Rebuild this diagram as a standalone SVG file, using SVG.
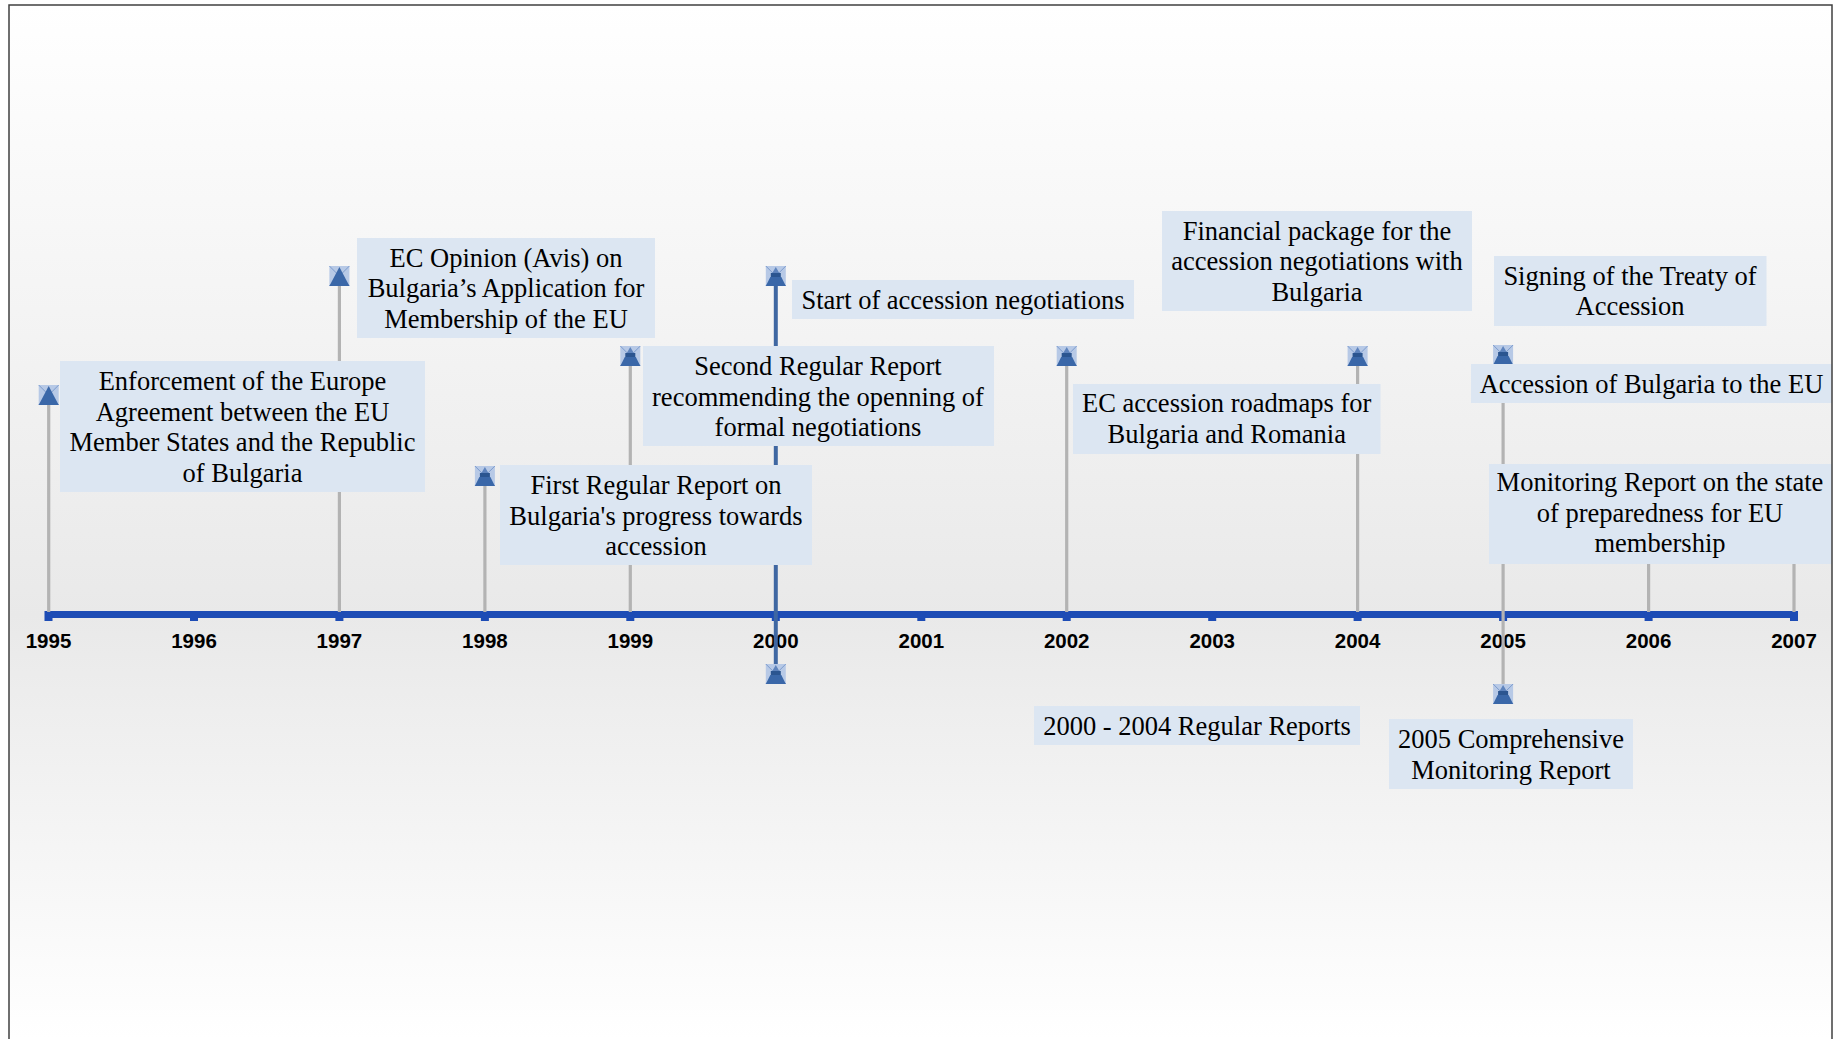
<svg xmlns="http://www.w3.org/2000/svg" xmlns:xlink="http://www.w3.org/1999/xlink" width="1841" height="1039" viewBox="0 0 1841 1039">
<style>
.box{fill:#dce6f2}
.t{font-family:"Liberation Serif","Times New Roman",serif;font-size:26.5px;fill:#000;text-anchor:middle}
.yr{font-family:"Liberation Sans",Arial,sans-serif;font-size:20.5px;font-weight:bold;fill:#000;text-anchor:middle}
.stem{stroke:#b3b3b3;stroke-width:3.2;fill:none}
.stemb{stroke:#3f67a2;stroke-width:4;fill:none}
.ax{fill:#1d4cb5}
</style>
<defs>
<linearGradient id="bg" gradientUnits="userSpaceOnUse" x1="0" y1="5" x2="0" y2="1039">
<stop offset="0" stop-color="#ffffff"/>
<stop offset="0.59" stop-color="#e9e9e9"/>
<stop offset="1" stop-color="#ffffff"/>
</linearGradient>
<g id="mA">
<rect x="0" y="0" width="20" height="20" fill="#b7c9e6"/>
<path d="M0,0 L20,20 M20,0 L0,20" stroke="#7d9cce" stroke-width="1"/>
<polygon points="0,20 10,1 20,20" fill="#3a67a8"/>
</g>
<g id="mB">
<rect x="0" y="0" width="20" height="20" fill="#b7c9e6"/>
<path d="M0,0 L20,20 M20,0 L0,20" stroke="#7d9cce" stroke-width="1"/>
<polygon points="6.5,7 10,1 13.5,7" fill="#5f84bd"/>
<rect x="5" y="7" width="10" height="4" fill="#2b5590"/>
<polygon points="4.5,11 15.5,11 20,20 0,20" fill="#3a67a8"/>
</g>
</defs>
<rect x="9" y="5" width="1823" height="1040" fill="url(#bg)"/>

<g id="axis">
<rect class="ax" x="45" y="611" width="1753" height="7"/>
<rect class="ax" x="44.5" y="611" width="8" height="10"/>
<rect class="ax" x="190" y="611" width="8" height="10"/>
<rect class="ax" x="335.4" y="611" width="8" height="10"/>
<rect class="ax" x="480.9" y="611" width="8" height="10"/>
<rect class="ax" x="626.3" y="611" width="8" height="10"/>
<rect class="ax" x="771.8" y="611" width="8" height="10"/>
<rect class="ax" x="917.3" y="611" width="8" height="10"/>
<rect class="ax" x="1062.7" y="611" width="8" height="10"/>
<rect class="ax" x="1208.2" y="611" width="8" height="10"/>
<rect class="ax" x="1353.6" y="611" width="8" height="10"/>
<rect class="ax" x="1499.1" y="611" width="8" height="10"/>
<rect class="ax" x="1644.6" y="611" width="8" height="10"/>
<rect class="ax" x="1790" y="611" width="8" height="10"/>
<text class="yr" x="48.5" y="648">1995</text>
<text class="yr" x="194" y="648">1996</text>
<text class="yr" x="339.4" y="648">1997</text>
<text class="yr" x="484.9" y="648">1998</text>
<text class="yr" x="630.3" y="648">1999</text>
<text class="yr" x="775.8" y="648">2000</text>
<text class="yr" x="921.3" y="648">2001</text>
<text class="yr" x="1066.7" y="648">2002</text>
<text class="yr" x="1212.2" y="648">2003</text>
<text class="yr" x="1357.6" y="648">2004</text>
<text class="yr" x="1503.1" y="648">2005</text>
<text class="yr" x="1648.6" y="648">2006</text>
<text class="yr" x="1794" y="648">2007</text>
</g>

<g id="connectors">
<line class="stem" x1="48.7" y1="404" x2="48.7" y2="612"/>
<line class="stem" x1="339.4" y1="285" x2="339.4" y2="612"/>
<line class="stem" x1="484.9" y1="485" x2="484.9" y2="612"/>
<line class="stem" x1="630.3" y1="365" x2="630.3" y2="612"/>
<line class="stemb" x1="775.8" y1="285" x2="775.8" y2="665"/>
<line class="stem" x1="1066.7" y1="365" x2="1066.7" y2="612"/>
<line class="stem" x1="1357.6" y1="365" x2="1357.6" y2="612"/>
<line class="stem" x1="1503.1" y1="364" x2="1503.1" y2="685"/>
<line class="stem" x1="1648.6" y1="500" x2="1648.6" y2="612"/>
<line class="stem" x1="1794" y1="500" x2="1794" y2="612"/>
</g>

<g id="n1995">
<use xlink:href="#mA" x="38.7" y="385"/>
<rect class="box" x="60" y="361" width="365" height="131"/>
<text class="t" x="242.5" y="390">Enforcement of the Europe</text>
<text class="t" x="242.5" y="420.7">Agreement between the EU</text>
<text class="t" x="242.5" y="451.3">Member States and the Republic</text>
<text class="t" x="242.5" y="481.9">of Bulgaria</text>
</g>

<g id="n1997">
<use xlink:href="#mA" x="329.4" y="266"/>
<rect class="box" x="357" y="238" width="298" height="100"/>
<text class="t" x="506" y="266.7">EC Opinion (Avis) on</text>
<text class="t" x="506" y="297.3">Bulgaria’s Application for</text>
<text class="t" x="506" y="327.8">Membership of the EU</text>
</g>

<g id="n1998">
<use xlink:href="#mB" x="474.9" y="466"/>
<rect class="box" x="500" y="465" width="312" height="100"/>
<text class="t" x="656" y="494">First Regular Report on</text>
<text class="t" x="656" y="524.6">Bulgaria's progress towards</text>
<text class="t" x="656" y="555">accession</text>
</g>

<g id="n1999">
<use xlink:href="#mB" x="620.3" y="346"/>
<rect class="box" x="643" y="346" width="351" height="100"/>
<text class="t" x="818" y="375.3">Second Regular Report</text>
<text class="t" x="818" y="405.7">recommending the openning of</text>
<text class="t" x="818" y="436">formal negotiations</text>
</g>

<g id="n2000">
<use xlink:href="#mB" x="765.8" y="266"/>
<rect class="box" x="792" y="280" width="342" height="39"/>
<text class="t" x="963" y="309.3">Start of accession negotiations</text>
</g>

<g id="n2000-2004">
<use xlink:href="#mB" x="765.8" y="664"/>
<rect class="box" x="1034" y="706" width="326" height="39"/>
<text class="t" x="1197" y="735">2000 - 2004 Regular Reports</text>
</g>

<g id="n2002">
<use xlink:href="#mB" x="1056.7" y="346"/>
<rect class="box" x="1073" y="384" width="307.5" height="70"/>
<text class="t" x="1226.7" y="412.3">EC accession roadmaps for</text>
<text class="t" x="1226.7" y="442.8">Bulgaria and Romania</text>
</g>

<g id="n2004">
<use xlink:href="#mB" x="1347.6" y="346"/>
<rect class="box" x="1162" y="211" width="310" height="100"/>
<text class="t" x="1317" y="240">Financial package for the</text>
<text class="t" x="1317" y="270.3">accession negotiations with</text>
<text class="t" x="1317" y="300.5">Bulgaria</text>
</g>

<g id="n2005">
<use xlink:href="#mB" x="1493.1" y="345"/>
<rect class="box" x="1494" y="256" width="272.5" height="70"/>
<text class="t" x="1630" y="285">Signing of the Treaty of</text>
<text class="t" x="1630" y="315.3">Accession</text>
</g>

<g id="n2007">
<rect class="box" x="1471" y="364" width="361" height="39"/>
<text class="t" x="1651.5" y="392.7">Accession of Bulgaria to the EU</text>
</g>

<g id="n2006">
<rect class="box" x="1489" y="464" width="343" height="100"/>
<text class="t" x="1660" y="491">Monitoring Report on the state</text>
<text class="t" x="1660" y="521.5">of preparedness for EU</text>
<text class="t" x="1660" y="552">membership</text>
</g>

<g id="n2005b">
<use xlink:href="#mB" x="1493.1" y="684"/>
<rect class="box" x="1389" y="719" width="244" height="70"/>
<text class="t" x="1511" y="748.3">2005 Comprehensive</text>
<text class="t" x="1511" y="779">Monitoring Report</text>
</g>

<path d="M9,1045 V5 H1832 V1045" fill="none" stroke="#404040" stroke-width="1.5"/>
</svg>
